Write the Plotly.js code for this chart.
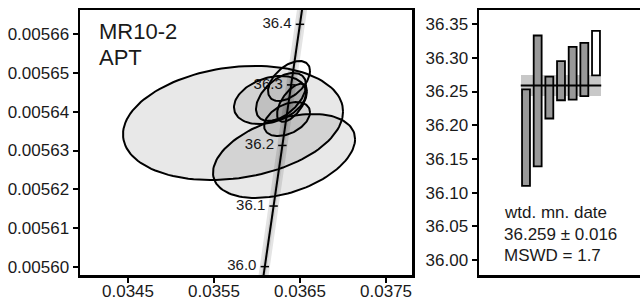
<!DOCTYPE html>
<html><head><meta charset="utf-8">
<script src="https://cdn.plot.ly/plotly-3.0.1.min.js"></script>
<style>html,body{margin:0;padding:0;overflow:hidden;background:#fff}#c{width:660px;height:300px}</style>
</head><body><div id="c"></div>
<script>
// Concordia curve (207Pb/235U vs 206Pb/238U) at ages in Ma
const concAge = [35.9, 36.0, 36.1, 36.2, 36.3, 36.4, 36.5];
const concX = [0.0359886, 0.0360905, 0.0361927, 0.0362947, 0.0363968, 0.0364989, 0.0366009];
const concY = [0.0055845, 0.0056001, 0.0056157, 0.0056313, 0.0056469, 0.0056625, 0.0056781];
const concLabel = ['', '36.0', '36.1', '36.2', '36.3', '36.4', ''];

// Error ellipses: centre, half extents, correlation, used in mean (1) or rejected (0)
const ellX = [0.035721, 0.036314, 0.036151, 0.036279, 0.036407, 0.036349, 0.036372];
const ellY = [0.0056371, 0.0056286, 0.0056430, 0.0056438, 0.0056423, 0.0056381, 0.0056479];
const ellHX = [0.001279, 0.000826, 0.000419, 0.000291, 0.000174, 0.000267, 0.000244];
const ellHY = [1.469e-5, 1.082e-5, 6.19e-6, 6.19e-6, 4.9e-6, 4.38e-6, 5.15e-6];
const ellRho = [0.2, 0.4, 0.3, 0.5, 0.6, 0.4, 0.5];
const ellUsed = [1, 1, 1, 1, 1, 1, 0];

// Weighted mean panel: dates and half-errors (Ma)
const barDate = [36.1815, 36.236, 36.241, 36.266, 36.277, 36.2825, 36.307];
const barErr = [0.0715, 0.097, 0.031, 0.029, 0.039, 0.0395, 0.033];
const barUsed = [1, 1, 1, 1, 1, 1, 0];
const wMean = 36.259, wErr = 0.016, mswd = 1.7;

const F = 'Liberation Sans, Arial, sans-serif';
const traces = [];

// concordia envelope
traces.push({x: concX, y: concY, mode: 'lines', line: {color: '#e4e4e4', width: 10},
  hoverinfo: 'skip', showlegend: false, xaxis: 'x', yaxis: 'y'});
traces.push({x: concX, y: concY, mode: 'lines', line: {color: '#d2d2d2', width: 5},
  hoverinfo: 'skip', showlegend: false, xaxis: 'x', yaxis: 'y'});
// concordia labels (under ellipses)
const li = concLabel.map((l, i) => l ? i : -1).filter(i => i >= 0);
traces.push({x: li.map(i => concX[i]), y: li.map(i => concY[i]), text: li.map(i => concLabel[i] + '\u00a0\u00a0'),
  mode: 'text', textposition: 'middle left', textfont: {family: F, size: 15, color: '#1a1a1a'},
  hoverinfo: 'skip', showlegend: false, xaxis: 'x', yaxis: 'y'});

// ellipses
const N = 120;
for (let k = 0; k < ellX.length; k++) {
  const xs = [], ys = [];
  const s = Math.sqrt(1 - ellRho[k] * ellRho[k]);
  for (let j = 0; j <= N; j++) {
    const t = 2 * Math.PI * j / N;
    xs.push(ellX[k] + ellHX[k] * Math.cos(t));
    ys.push(ellY[k] + ellHY[k] * (ellRho[k] * Math.cos(t) + s * Math.sin(t)));
  }
  traces.push({x: xs, y: ys, mode: 'lines', fill: ellUsed[k] ? 'toself' : 'none',
    fillcolor: 'rgba(0,0,0,0.09)', line: {color: '#000', width: 2},
    hoverinfo: 'skip', showlegend: false, xaxis: 'x', yaxis: 'y'});
}
// concordia line and ticks
traces.push({x: concX, y: concY, mode: 'lines', line: {color: '#000', width: 2},
  hoverinfo: 'skip', showlegend: false, xaxis: 'x', yaxis: 'y'});
traces.push({x: li.map(i => concX[i]), y: li.map(i => concY[i]), mode: 'markers',
  marker: {symbol: 'line-ew', size: 6, line: {color: '#000', width: 1.5}},
  hoverinfo: 'skip', showlegend: false, xaxis: 'x', yaxis: 'y'});

// weighted mean panel
const idx = barDate.map((_, i) => i + 1);
const x0 = 1 - 0.45, x1 = barDate.length + 0.45;
traces.push({type: 'bar', x: [(x0 + x1) / 2], y: [2 * wErr], base: [wMean - wErr], width: x1 - x0,
  marker: {color: '#c8c8c8', line: {width: 0}},
  hoverinfo: 'skip', showlegend: false, xaxis: 'x2', yaxis: 'y2'});
traces.push({type: 'bar', x: idx, y: barErr.map(e => 2 * e), base: barDate.map((d, i) => d - barErr[i]),
  width: 0.68, marker: {color: barUsed.map(u => u ? '#999999' : '#ffffff'), line: {color: '#000', width: 1.8}},
  hoverinfo: 'skip', showlegend: false, xaxis: 'x2', yaxis: 'y2'});
traces.push({x: [x0, x1], y: [wMean, wMean], mode: 'lines', line: {color: '#000', width: 2},
  hoverinfo: 'skip', showlegend: false, xaxis: 'x2', yaxis: 'y2'});

const ax = {showline: true, mirror: true, linecolor: '#000', linewidth: 2.5, ticks: 'outside',
  ticklen: 5, tickwidth: 2, tickcolor: '#000', showgrid: false, zeroline: false,
  tickfont: {family: F, size: 17, color: '#1a1a1a'}};

const layout = {
  width: 660, height: 300, margin: {l: 80, r: 10, t: 10, b: 25},
  paper_bgcolor: '#fff', plot_bgcolor: '#fff', font: {family: F},
  barmode: 'overlay', bargap: 0,
  xaxis: Object.assign({}, ax, {domain: [0, 0.5825], range: [0.033942, 0.037802], tick0: 0.0345, dtick: 0.001, tickformat: '.4f', anchor: 'y', ticklabelstandoff: -6}),
  yaxis: Object.assign({}, ax, {domain: [0, 1], range: [0.005597941, 0.005666186], tick0: 0.0056, dtick: 0.00001, tickformat: '.5f', anchor: 'x'}),
  xaxis2: Object.assign({}, ax, {domain: [0.7, 1], range: [-3.03, 11.63], ticks: '', showticklabels: false, anchor: 'y2'}),
  yaxis2: Object.assign({}, ax, {domain: [0, 1], range: [35.978, 36.3708], tick0: 36, dtick: 0.05, tickformat: '.2f', anchor: 'x2'}),
  annotations: [
    {xref: 'paper', yref: 'paper', x: 0.0298, y: 0.917, xanchor: 'left', yanchor: 'middle', showarrow: false,
     text: 'MR10-2', font: {family: F, size: 22, color: '#1a1a1a'}},
    {xref: 'paper', yref: 'paper', x: 0.0298, y: 0.819, xanchor: 'left', yanchor: 'middle', showarrow: false,
     text: 'APT', font: {family: F, size: 22, color: '#1a1a1a'}},
    {xref: 'paper', yref: 'paper', x: 0.7404, y: 0.234, xanchor: 'left', yanchor: 'middle', showarrow: false,
     text: 'wtd. mn. date', font: {family: F, size: 17, color: '#1a1a1a'}},
    {xref: 'paper', yref: 'paper', x: 0.7404, y: 0.1547, xanchor: 'left', yanchor: 'middle', showarrow: false,
     text: wMean.toFixed(3) + ' ± ' + wErr.toFixed(3), font: {family: F, size: 17, color: '#1a1a1a'}},
    {xref: 'paper', yref: 'paper', x: 0.7404, y: 0.0717, xanchor: 'left', yanchor: 'middle', showarrow: false,
     text: 'MSWD = ' + mswd.toFixed(1), font: {family: F, size: 17, color: '#1a1a1a'}}
  ]
};
Plotly.newPlot('c', traces, layout, {displayModeBar: false, staticPlot: true});
</script></body></html>
